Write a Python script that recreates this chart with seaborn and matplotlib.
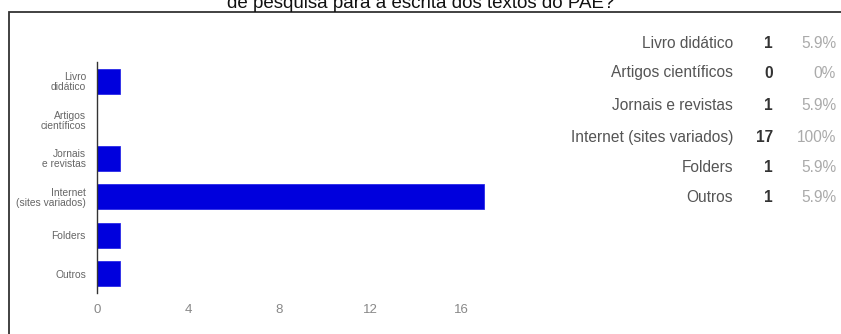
import matplotlib
matplotlib.use("Agg")
import matplotlib.pyplot as plt
from matplotlib.patches import Rectangle
import seaborn as sns
import pandas as pd

categories = ["Livro didático", "Artigos científicos", "Jornais e revistas",
              "Internet (sites variados)", "Folders", "Outros"]
tick_labels = ["Livro\ndidático", "Artigos\ncientíficos", "Jornais\ne revistas",
               "Internet\n(sites variados)", "Folders", "Outros"]
counts = [1, 0, 1, 17, 1, 1]
percents = ["5.9%", "0%", "5.9%", "100%", "5.9%", "5.9%"]
xticks = [0, 4, 8, 12, 16]
title = "de pesquisa para a escrita dos textos do PAE?"

sns.set_theme(style="white")
plt.rcParams["font.family"] = ["Liberation Sans", "DejaVu Sans"]

W, H = 841, 334
fig = plt.figure(figsize=(W / 100, H / 100), dpi=100)
ax = fig.add_axes([97 / W, 41 / H, 410 / W, 231 / H])

df = pd.DataFrame({"cat": categories, "count": counts})
sns.barplot(data=df, y="cat", x="count", orient="h", color="#0000DD",
            saturation=1, width=0.65, ax=ax, edgecolor="#2a2ae8", linewidth=0.6)

ax.set_xlim(0, 18)
ax.set_xticks(xticks)
ax.set_xticklabels([str(t) for t in xticks], color="#888888", fontsize=9.5)
ax.set_yticks(range(len(categories)))
ax.set_yticklabels(tick_labels, color="#666666", fontsize=7.4, linespacing=1.0)
ax.tick_params(axis="both", length=0)
ax.tick_params(axis="x", pad=8)
ax.tick_params(axis="y", pad=8)
ax.set_xlabel("")
ax.set_ylabel("")
for s in ["top", "right", "bottom"]:
    ax.spines[s].set_visible(False)
ax.spines["left"].set_color("#333333")
ax.spines["left"].set_linewidth(1.0)

# Right-hand table
row_y = [43, 73, 105, 137, 167, 198]
for y, cat, c, p in zip(row_y, categories, counts, percents):
    fy = 1 - y / H
    fig.text(733 / W, fy, cat, ha="right", va="center", fontsize=11.2, color="#555555")
    fig.text(773 / W, fy, str(c), ha="right", va="center", fontsize=11.2,
             color="#333333", fontweight="bold")
    fig.text(836 / W, fy, p, ha="right", va="center", fontsize=11.2, color="#aaaaaa")

# Cropped title at top (cut off in the reference as well)
fig.text(0.5, 1 - 8 / H, title, ha="center", va="baseline", fontsize=13.5, color="#111111")

# Frame
fig.add_artist(Rectangle((9 / W, -0.1), 1.0, 1 - 12 / H + 0.1,
                         transform=fig.transFigure, fill=False,
                         edgecolor="#333333", linewidth=1.3, clip_on=False))

fig.savefig("out.png", dpi=100)
